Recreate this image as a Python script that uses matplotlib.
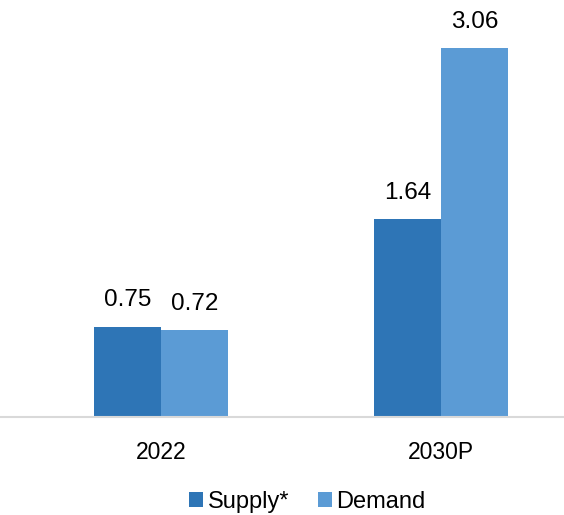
import matplotlib
matplotlib.use("Agg")
import matplotlib.pyplot as plt
import numpy as np

categories = ["2022", "2030P"]
supply = [0.75, 1.64]
demand = [0.72, 3.06]
series_names = ["Supply*", "Demand"]
colors = ["#2E75B6", "#5B9BD5"]

plt.rcParams['font.family'] = ['Liberation Sans', 'DejaVu Sans']

fig = plt.figure(figsize=(5.64, 5.15), dpi=100)
ax = fig.add_axes([0.0, 0.190, 1.0, 0.796])

x = np.arange(len(categories))
w = 0.239
b1 = ax.bar(x - w/2, supply, w, color=colors[0], label=series_names[0])
b2 = ax.bar(x + w/2, demand, w, color=colors[1], label=series_names[1])

for bars, vals in ((b1, supply), (b2, demand)):
    for r, v in zip(bars, vals):
        ax.annotate(f"{v:.2f}", (r.get_x() + r.get_width()/2, v),
                    xytext=(0, 11), textcoords="offset points",
                    ha="center", va="bottom", fontsize=17.5, color="black")

ax.set_xlim(-0.575, 1.439)
ax.set_ylim(0, 3.4)
ax.set_xticks(x)
ax.set_xticklabels(categories, fontsize=16.5)
ax.tick_params(axis='x', length=0, pad=17)
ax.set_yticks([])
for s in ["top", "right", "left"]:
    ax.spines[s].set_visible(False)
ax.spines["bottom"].set_color("#D9D9D9")
ax.spines["bottom"].set_linewidth(1.5)

fig.legend(handles=[b1, b2], labels=series_names, loc="center",
           bbox_to_anchor=(0.545, 0.026), ncol=2, frameon=False,
           fontsize=17, handlelength=0.6, handleheight=0.6,
           handletextpad=0.2, columnspacing=1.2)

fig.savefig("out.png", dpi=100)
